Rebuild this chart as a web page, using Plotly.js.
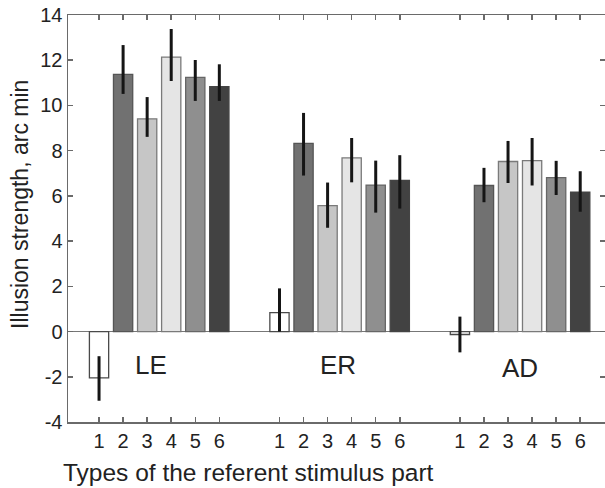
<!DOCTYPE html>
<html>
<head>
<meta charset="utf-8">
<script src="https://cdn.plot.ly/plotly-3.0.1.min.js"></script>
<style>html,body{margin:0;padding:0;background:#fff;}#chart{width:605px;height:488px;}</style>
</head>
<body>
<div id="chart"></div>
<script>
// Data
const groups = ['LE', 'ER', 'AD'];
const types = ['1', '2', '3', '4', '5', '6'];

const leMean = [-2.05, 11.37, 9.41, 12.14, 11.24, 10.83];
const leHigh = [-1.09, 12.67, 10.37, 13.38, 12.01, 11.82];
const leLow  = [-3.06, 10.51, 8.61, 11.08, 10.20, 10.20];

const erMean = [0.84, 8.32, 5.57, 7.68, 6.48, 6.69];
const erHigh = [1.91, 9.67, 6.59, 8.56, 7.56, 7.80];
const erLow  = [0.00, 6.90, 4.59, 6.60, 5.26, 5.44];

const adMean = [-0.13, 6.46, 7.52, 7.56, 6.81, 6.17];
const adHigh = [0.66, 7.24, 8.43, 8.56, 7.55, 7.09];
const adLow  = [-0.92, 5.72, 6.57, 6.46, 6.04, 5.30];

const yTicks = [-4, -2, 0, 2, 4, 6, 8, 10, 12, 14];

const means = [leMean, erMean, adMean];
const highs = [leHigh, erHigh, adHigh];
const lows = [leLow, erLow, adLow];

const fills = ['#ffffff', '#717171', '#c6c6c6', '#e5e5e5', '#8f8f8f', '#424242'];
const outlines = ['#4a4a4a', '#555555', '#7a7a7a', '#7a7a7a', '#666666', '#444444'];

function pos(g, t) { return g * 7.5 + t + 1; }

const traces = types.map((tp, ti) => {
  const x = [], y = [], plus = [], minus = [];
  groups.forEach((g, gi) => {
    x.push(pos(gi, ti));
    y.push(means[gi][ti]);
    plus.push(highs[gi][ti] - means[gi][ti]);
    minus.push(means[gi][ti] - lows[gi][ti]);
  });
  return {
    type: 'bar', x: x, y: y, width: 0.8, name: tp,
    marker: { color: fills[ti], line: { color: outlines[ti], width: 1.3 } },
    error_y: { type: 'data', symmetric: false, array: plus, arrayminus: minus,
               color: '#151515', thickness: 3, width: 0 },
    showlegend: false, hoverinfo: 'skip'
  };
});

const tickvals = [], ticktext = [];
groups.forEach((g, gi) => types.forEach((tp, ti) => { tickvals.push(pos(gi, ti)); ticktext.push(tp); }));

const font = 'Liberation Sans, Arial, sans-serif';
const annX = [3.17, 10.93, 18.49];
const annY = [-1.46, -1.46, -1.62];

const annotations = groups.map((g, gi) => ({
  text: g, x: annX[gi], y: annY[gi], xref: 'x', yref: 'y', showarrow: false,
  xanchor: 'center', yanchor: 'middle', font: { family: font, size: 26, color: '#222' }
}));
annotations.push({
  text: 'Illusion strength, arc min', textangle: -90, xref: 'paper', x: 0, xshift: -48,
  yref: 'y', y: 5.6, xanchor: 'center', yanchor: 'middle', showarrow: false,
  font: { family: font, size: 23, color: '#222' }
});
annotations.push({
  text: 'Types of the referent stimulus part', xref: 'paper', x: 0, xshift: -7,
  yref: 'paper', y: 0, yshift: -50, xanchor: 'left', yanchor: 'middle', showarrow: false,
  font: { family: font, size: 24.5, color: '#222' }
});

const axisCommon = {
  showline: true, linecolor: '#6a6a6a', linewidth: 1.5, mirror: 'ticks',
  ticks: 'inside', ticklen: 5, tickwidth: 1.5, tickcolor: '#6a6a6a',
  showgrid: false, tickfont: { family: font, size: 20, color: '#222' }
};

const layout = {
  width: 605, height: 488,
  margin: { l: 68, r: 0, t: 15, b: 66, pad: 0 },
  paper_bgcolor: '#fff', plot_bgcolor: '#fff',
  barmode: 'overlay',
  xaxis: Object.assign({}, axisCommon, {
    range: [-0.29, 22.03], tickmode: 'array', tickvals: tickvals, ticktext: ticktext,
    zeroline: false
  }),
  yaxis: Object.assign({}, axisCommon, {
    range: [-4, 14], tickmode: 'array', tickvals: yTicks, ticktext: yTicks.map(String),
    zeroline: true, zerolinecolor: '#777', zerolinewidth: 1.5
  }),
  annotations: annotations
};

Plotly.newPlot('chart', traces, layout, { staticPlot: true, displayModeBar: false });
</script>
</body>
</html>
